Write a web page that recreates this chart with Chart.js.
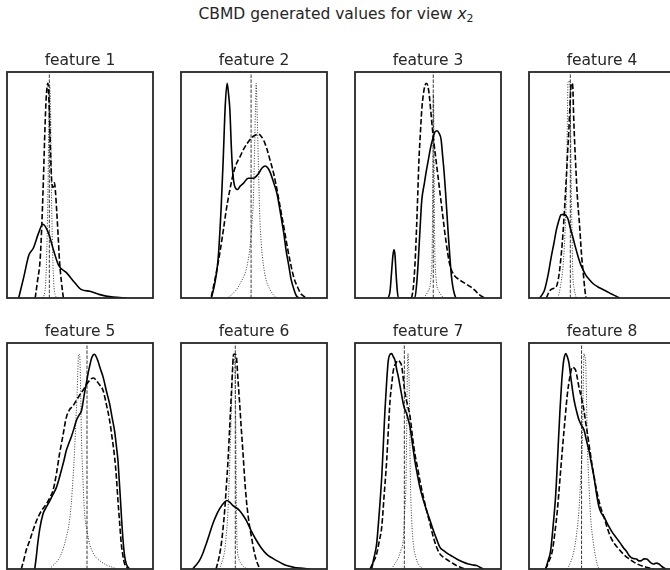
<!DOCTYPE html>
<html>
<head>
<meta charset="utf-8">
<script src="https://cdn.jsdelivr.net/npm/chart.js@4.4.1/dist/chart.umd.min.js"></script>
<style>
html, body { margin: 0; padding: 0; background: #fff; overflow: hidden; }
#fig { position: relative; width: 670px; height: 570px; overflow: hidden; }
#fig canvas { position: absolute; }
#suptitle {
    position: absolute; left: 0; top: 5px; width: 672px; text-align: center;
    font-family: 'DejaVu Sans', sans-serif; font-size: 15.5px; color: #262626;
}
#suptitle sub { font-size: 70%; vertical-align: -0.25em; }
</style>
</head>
<body>
<div id="fig">
    <div id="suptitle">CBMD generated values for view <i>x</i><sub>2</sub></div>
</div>
<script>
// x / y in percent of each panel's (hidden) axis range
const titles = ['feature 1', 'feature 2', 'feature 3', 'feature 4',
                'feature 5', 'feature 6', 'feature 7', 'feature 8'];

// vertical reference line (true value) per feature
const truth = [29, 48, 53.6, 28.3, 54.8, 37.2, 33.8, 36];

const solid1 = [[8,0],[11.4,9],[15,19],[18,22],[21.6,28.7],[24.5,32.6],[28.4,28.7],[31.8,21.3],[35.2,14.7],[41,11],[46.6,6.6],[51,3.7],[56.8,3],[63.6,1.5],[72.7,0.4],[82,0]];
const dashed1 = [[19.3,0],[21,8],[22.7,17],[24,35],[25,53.7],[26,75],[26.8,88],[28,95],[29,83],[29.8,65],[30.7,51],[31.6,49],[32.5,51],[33.2,47],[34,39],[35,28],[35.9,17],[37.3,7],[38.6,0]];
const dotted1 = [[24,0],[26,3],[27,15],[28,45],[28.8,85],[29.3,94],[29.8,85],[30.5,45],[31.5,15],[32.5,3],[34.5,0]];

const solid2 = [[20.8,0],[23,6],[25.4,17],[27.5,40],[28.9,61],[30.3,85],[31.6,95],[32.6,90],[33.5,83],[34.4,68],[35.3,56.6],[37,49],[38.8,48],[40.5,49.5],[42.7,50.7],[46,53],[49.7,53],[53,55],[55.5,57.5],[57.7,58.4],[59.5,57.5],[61,55.7],[63.5,51],[65.8,46],[68,38],[70.4,28.7],[72,21],[73.9,14],[75.5,8],[77.4,3.7],[79,1],[80.8,0]];
const dashed2 = [[20.8,0.7],[23.5,9],[26.6,20],[29,30],[31,39],[33.5,48],[35.8,55],[38,59.5],[40.4,62.5],[43,66],[46,69],[48.5,71],[50.8,72],[53,72.5],[55,71.5],[56.6,69.8],[58.8,66],[61,61],[63.5,55],[65.8,47.8],[68,40],[70.4,31.6],[72.7,23],[75,15.4],[77.3,9],[79.7,5],[82,2],[84.3,0.7],[86.6,0]];
const dotted2 = [[32,0],[38,3.7],[41,7],[43.9,11],[45.8,16],[47.3,22.8],[48.6,33],[49.7,46],[50.4,66],[51,83],[51.5,95],[52,86],[52.4,76],[53.1,57],[53.8,39],[55,24],[56.6,14],[58.5,7.5],[61,3.7],[63.5,1.2],[65.8,0]];

const solid3 = [[22.8,0],[24,3],[25,11],[26,19],[26.7,21.3],[27.4,19],[28.1,11],[29,3],[29.7,0],[41,0],[42.2,6],[43.4,17],[44.5,30],[45.7,43],[47.5,50.7],[48.8,56],[50.2,61],[51.6,66],[53,69.8],[54.8,73.5],[56.2,74],[57.5,73],[59,70],[60,63],[61,56],[62,47],[63,37],[64,27],[65,18],[66,10],[67,5],[68,2],[69,0]];
const dashed3 = [[38.8,0],[40,5],[41,14],[41.6,22],[42.2,31.6],[43,46],[43.8,61],[44.7,72],[45.7,83],[46.8,90],[47.9,94],[49,95],[50,93.5],[51,89],[52,82],[53,75],[54,69],[55.5,61],[57,53],[58.5,45],[60,37],[61.5,29],[63,22],[64.5,16],[66,12.5],[68,10],[71,8.3],[75,6.6],[79,5],[82,3.5],[85,1.5],[87.5,0.5],[90,0]];
const dotted3 = [[47,0],[50,3],[52,9],[53,30],[53.5,80],[53.7,90],[54,80],[54.5,30],[55.5,9],[57.5,3],[60.5,0]];

const solid4 = [[7.3,0],[9,1.5],[10.7,3.7],[13,10],[15.3,18.4],[17,24],[18.7,30],[20.3,34],[22,36.8],[24,37],[25.3,36.5],[26.7,35],[28.3,31],[30,27],[31.8,22.5],[33.6,18.4],[35.3,15],[37,12.5],[39,10],[41.5,8],[44,6.3],[47,5],[50,4],[53,3],[56.5,1.8],[60,0.7],[62,0]];
const dashed4 = [[11.9,0],[14,3],[16.5,4.2],[18.7,5],[20,8],[21,12.5],[22.2,20],[23.3,28.7],[24.5,41],[25.6,53.7],[26.5,65],[27.4,75.7],[28.2,87],[29,95],[29.5,95],[30,93.4],[30.6,80],[31.3,68.4],[32.2,56],[33,46],[34.7,31.6],[36,19],[37.4,9.5],[38.2,4],[39,0]];
const dotted4 = [[19.9,0],[21.5,5],[23.3,14],[24.6,28],[25.6,46],[26.2,75],[26.7,95],[27.3,96],[28,95],[28.5,75],[29,46],[29.5,28],[30,11],[31,4],[32.4,0]];

const solid5 = [[19,0],[20,5],[21,11],[22.5,18],[24.7,24.4],[27,27.5],[29.2,30],[31.5,33],[33.8,36],[35.5,39.5],[37.2,43.6],[39,48],[40.6,52.4],[42.3,55.5],[44,58.4],[45.8,62],[47.5,65.7],[49.3,68],[51,70],[52,73.5],[53,77.5],[54.3,82],[55.5,86.4],[56.7,90],[57.8,93],[59,94.7],[60,95],[61.2,93.8],[62.3,92],[64,88.5],[65.8,85],[68,79],[70.3,73],[72,67],[73.7,61],[75,54],[76,48],[76.8,40],[77.6,31.8],[78.5,22],[79.5,12.6],[80.5,6],[81.7,2.2],[84,0]];
const dashed5 = [[9.8,0],[11.5,4],[13,8],[15.5,12.5],[17.8,17],[20,21],[22.4,24.4],[24.7,26.8],[27,28.8],[29.3,31.5],[31.5,34.7],[33.8,42],[36,51],[38.3,59],[40.6,67],[42.8,70.5],[45,72],[47.4,74.5],[49.8,77],[51.4,78.5],[53,80],[55.4,82.5],[57.8,84.2],[59.4,84.5],[61,83.5],[63.4,81.5],[65.8,79],[68,73],[70.3,65.7],[72,58],[73.7,49.5],[75,40],[76,30.3],[77.2,20],[78.3,11],[79.5,5.5],[80.6,2.2],[83,0]];
const dotted5 = [[29,0],[33,2.5],[36,5],[38.5,9],[40.6,14],[42.5,20],[44,28.8],[45.2,40],[46.3,52.4],[47.2,66],[48,77.5],[48.5,87],[49,95],[49.5,95],[50,92],[50.5,76],[51,58],[52,40],[53,26],[54.8,17],[56.6,11],[60,6],[63.5,3.7],[68,1.8],[72.6,0.7],[75,0]];

const solid6 = [[8,0],[10,1.5],[12.6,3.7],[15,7],[17.2,11],[19.5,15.5],[21.8,20],[24,23.5],[26.4,26.6],[29,29],[31.5,30.3],[33.5,29.5],[35.6,28],[38,27],[40.2,25.8],[42.5,23.8],[44.8,21.4],[48,17],[51.7,12.6],[55,9.3],[58.6,6.6],[62,5],[65.5,3.7],[69,2.5],[72.4,1.5],[77,0.8],[81.6,0.4],[88.5,0]];
const dashed6 = [[24,0],[26,5],[27.6,11],[28.8,18],[29.9,25.8],[31,36],[32.2,48],[33.3,62],[34.5,77.5],[35.3,88],[36,95],[37,95],[37.9,94],[39,84],[40.2,73],[41.3,62],[42.5,51],[43.6,40],[44.8,30.3],[46.5,21],[48.3,14],[50,8],[51.7,3.7],[54,0]];
const dotted6 = [[26.4,0],[28,3],[29.9,8],[31,15],[32.2,25.8],[33,40],[33.8,55],[34.7,75],[35.6,93.5],[36.2,95],[36.8,93],[37.2,80],[37.5,65],[37.8,40],[38.1,20],[38.4,11],[39.5,5],[41.4,2.2],[43.5,0.7],[46,0]];

const solid7 = [[11.4,0],[13,5],[14.8,11],[16.5,24],[18.3,40.6],[19.4,55],[20.5,70],[21.6,82],[22.8,92.3],[24,95],[25.1,95.3],[26.2,94],[27.4,92.3],[28.5,88.5],[29.7,85],[31.4,79],[33.1,73],[34.2,70.5],[35.4,68.7],[36.5,66],[37.7,62.8],[39.3,55.5],[41,48],[42.8,41.5],[44.5,36],[46.8,30.5],[49,26],[51.4,21.5],[53.7,17],[56,13],[58.2,9.6],[61,8],[64,6.6],[67,5.5],[69.6,4.4],[73.5,3.2],[77.6,2.2],[80.5,1.8],[83.3,1.5],[85.5,0.8],[88,0]];
const dashed7 = [[10.3,0],[12.5,3],[14.8,6.6],[16.5,12],[18.3,18.5],[20,33],[21.7,48],[22.8,61],[24,74.6],[25.2,82],[26.3,88],[28,91],[29.7,92.3],[30.8,91.5],[32,89.7],[33.1,84],[34.2,78],[36,72.5],[37.7,67.5],[39.3,59],[41,51],[42.8,45],[44.5,39],[46.8,32],[49,26],[51.4,20],[53.7,14],[56,9.5],[58.2,6.6],[61,5],[64,3.7],[67,2.5],[69.6,1.5],[72.5,0.7],[75.3,0]];
const dotted7 = [[25,0],[27.5,2.5],[29.7,5],[31.5,8.5],[33,12.5],[34,25],[35,40.6],[35.4,62],[35.8,85],[36.3,95.3],[36.7,90],[37,85],[37.5,62],[37.9,40.6],[38.8,22],[40,11],[41.7,5],[43.4,2.2],[45,0.8],[47,0]];

const solid8 = [[11.4,0],[13,3.5],[14.8,8],[16.5,19],[18.3,33],[19.8,52],[21.2,70],[22.3,82],[23.5,91],[24.3,94],[25.1,95.3],[26.2,94],[27.4,91],[29,83],[30.8,75],[32.5,70],[34.2,66],[36,63.5],[37.7,61.5],[39.3,57],[41,52.6],[42.8,46.5],[44.5,40.8],[46.2,33.5],[48,27.3],[49.8,24.5],[51.6,22.8],[53.3,20.5],[55,18.5],[57.3,16],[59.6,14],[61.3,12.5],[63,11],[64.8,9.3],[66.6,8],[68.3,6.2],[70,5],[71.8,4.6],[73.6,4.4],[75.3,3.6],[77,3.7],[78.8,4.5],[80.6,4.4],[83,3],[85.4,2.2],[87.2,2.6],[89,2.2],[91.3,1],[93.6,0]];
const dashed8 = [[11.4,0],[13.7,3.5],[16,8],[17.7,16],[19.4,25.8],[21.1,39],[22.8,52.4],[24.5,65],[26.3,77.5],[28,85],[29.7,89.3],[30.8,89],[32,87.8],[33.1,84.5],[34.2,80.5],[36,75.5],[37.7,70],[38.8,65],[40,60],[41.7,52.5],[43.4,45.2],[45.1,39],[46.8,33.2],[49,27.5],[51.4,22.8],[53.7,18],[56,14],[58.2,11.5],[60.5,9.6],[64,7],[67.4,5],[70.8,3.5],[74.2,2.2],[77.6,1.3],[81,0.7],[85.6,0]];
const dotted8 = [[26.3,0],[28.5,3],[30.8,8],[32.5,15],[34.2,25.8],[35.4,40],[36.5,55],[37.1,78],[37.7,95.3],[38.3,94],[38.8,92],[39.4,75],[40,55],[41.1,37],[42.2,23],[44,12],[45.7,5],[47,1.5],[48,0]];

const solids = [solid1, solid2, solid3, solid4, solid5, solid6, solid7, solid8];
const dasheds = [dashed1, dashed2, dashed3, dashed4, dashed5, dashed6, dashed7, dashed8];
const dotteds = [dotted1, dotted2, dotted3, dotted4, dotted5, dotted6, dotted7, dotted8];

// panel layout (pixels)
const colLeft = [7, 181, 355, 529];
const rowTop = [72, 343];
const boxW = 146, boxH = 226, titleH = 26, pad = 3;

const framePlugin = {
    id: 'frame',
    afterDraw(chart) {
        const { ctx, chartArea: a } = chart;
        ctx.save();
        ctx.strokeStyle = '#262626';
        ctx.lineWidth = 1.8;
        ctx.strokeRect(a.left, a.top, a.right - a.left, a.bottom - a.top);
        ctx.restore();
    },
};

function curve(data, width, dash, color) {
    return {
        data: data,
        borderColor: color,
        borderWidth: width,
        borderDash: dash,
        pointRadius: 0,
        fill: false,
        cubicInterpolationMode: 'monotone',
    };
}

const fig = document.getElementById('fig');
for (let i = 0; i < 8; i++) {
    const canvas = document.createElement('canvas');
    canvas.width = boxW + 2 * pad;
    canvas.height = titleH + boxH + pad;
    canvas.style.left = (colLeft[i % 4] - pad) + 'px';
    canvas.style.top = (rowTop[Math.floor(i / 4)] - titleH) + 'px';
    fig.appendChild(canvas);

    new Chart(canvas, {
        type: 'line',
        data: {
            datasets: [
                curve(solids[i], 1.6, [], '#000'),
                curve(dasheds[i], 1.6, [5.5, 2.4], '#000'),
                curve(dotteds[i], 0.9, [1, 1.6], '#222'),
                curve([[truth[i], 0], [truth[i], 100]], 0.9, [3.5, 1.5], '#222'),
            ],
        },
        options: {
            responsive: false,
            animation: false,
            events: [],
            layout: { padding: { left: pad, right: pad, top: 0, bottom: pad } },
            plugins: {
                legend: { display: false },
                tooltip: { enabled: false },
                title: {
                    display: true,
                    text: titles[i],
                    color: '#262626',
                    font: { family: "'DejaVu Sans', sans-serif", size: 15.5, weight: 'normal', lineHeight: 1 },
                    padding: { top: 7, bottom: 3.5 },
                },
            },
            scales: {
                x: { type: 'linear', min: 0, max: 100, display: false },
                y: { type: 'linear', min: 0, max: 100, display: false },
            },
        },
        plugins: [framePlugin],
    });
}
</script>
</body>
</html>
